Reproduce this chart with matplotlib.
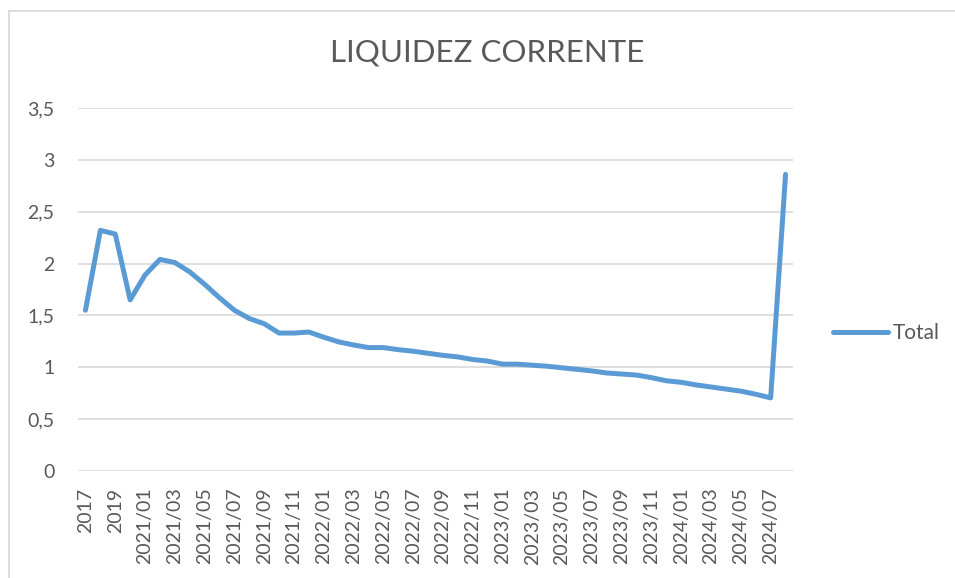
import matplotlib
matplotlib.use("Agg")
import matplotlib.pyplot as plt
from matplotlib.lines import Line2D

categories = [
    "2017", "2018", "2019", "2020",
    "2021/01", "2021/02", "2021/03", "2021/04", "2021/05", "2021/06",
    "2021/07", "2021/08", "2021/09", "2021/10", "2021/11", "2021/12",
    "2022/01", "2022/02", "2022/03", "2022/04", "2022/05", "2022/06",
    "2022/07", "2022/08", "2022/09", "2022/10", "2022/11", "2022/12",
    "2023/01", "2023/02", "2023/03", "2023/04", "2023/05", "2023/06",
    "2023/07", "2023/08", "2023/09", "2023/10", "2023/11", "2023/12",
    "2024/01", "2024/02", "2024/03", "2024/04", "2024/05", "2024/06",
    "2024/07", "2024/08",
]
total = [
    1.55, 2.32, 2.285, 1.65,
    1.89, 2.04, 2.01, 1.92, 1.80, 1.67,
    1.55, 1.47, 1.42, 1.33, 1.33, 1.34,
    1.29, 1.245, 1.215, 1.19, 1.19, 1.17,
    1.155, 1.135, 1.115, 1.10, 1.075, 1.06,
    1.03, 1.03, 1.02, 1.01, 0.995, 0.98,
    0.965, 0.945, 0.935, 0.925, 0.90, 0.87,
    0.855, 0.83, 0.81, 0.79, 0.77, 0.74,
    0.705, 2.86,
]
y_ticks = [0, 0.5, 1, 1.5, 2, 2.5, 3, 3.5]
y_tick_labels = ["0", "0,5", "1", "1,5", "2", "2,5", "3", "3,5"]
title = "LIQUIDEZ CORRENTE"
series_name = "Total"

W, H = 955, 578
plt.rcParams['font.family'] = ['Lato', 'DejaVu Sans']
text_color = "#595959"
line_color = "#5B9BD5"
grid_color = "#D9D9D9"

fig = plt.figure(figsize=(W / 100, H / 100), dpi=100)
fig.patch.set_facecolor("white")

# chart area border (only left and top edges visible)
bx, by = 8.5 / W, 1 - 10.5 / H
fig.lines.append(Line2D([bx, bx], [0, by], transform=fig.transFigure,
                        color="#D9D9D9", linewidth=1.3))
fig.lines.append(Line2D([bx, 1], [by, by], transform=fig.transFigure,
                        color="#D9D9D9", linewidth=1.3))

ax = fig.add_axes([78 / W, 1 - 471 / H, 715 / W, 363 / H])
x = list(range(len(categories)))
ax.plot(x, total, color=line_color, linewidth=3.6, solid_joinstyle="round",
        solid_capstyle="round", label=series_name, zorder=3)

ax.set_xlim(-0.5, len(categories) - 0.5)
ax.set_ylim(0, 3.5)
ax.set_yticks(y_ticks)
ax.set_yticklabels(y_tick_labels)
ax.set_xticks(x[::2])
ax.set_xticklabels(categories[::2], rotation=90)
ax.tick_params(axis="both", length=0, colors=text_color, labelsize=14)
ax.tick_params(axis="y", pad=17)
ax.tick_params(axis="x", pad=12)
ax.grid(axis="y", color=grid_color, linewidth=1.2)
ax.set_axisbelow(True)
for s in ax.spines.values():
    s.set_visible(False)

fig.text(487.5 / W, 1 - 53 / H, title, ha="center", va="center",
         fontsize=22.5, color=text_color)

leg = ax.legend(loc="center left", bbox_to_anchor=(833 / W, 1 - 333 / H),
                bbox_transform=fig.transFigure, frameon=False, borderpad=0,
                borderaxespad=0, handlelength=2.65, handletextpad=0.2,
                fontsize=15)
for t in leg.get_texts():
    t.set_color(text_color)

fig.savefig("out.png", dpi=100)
